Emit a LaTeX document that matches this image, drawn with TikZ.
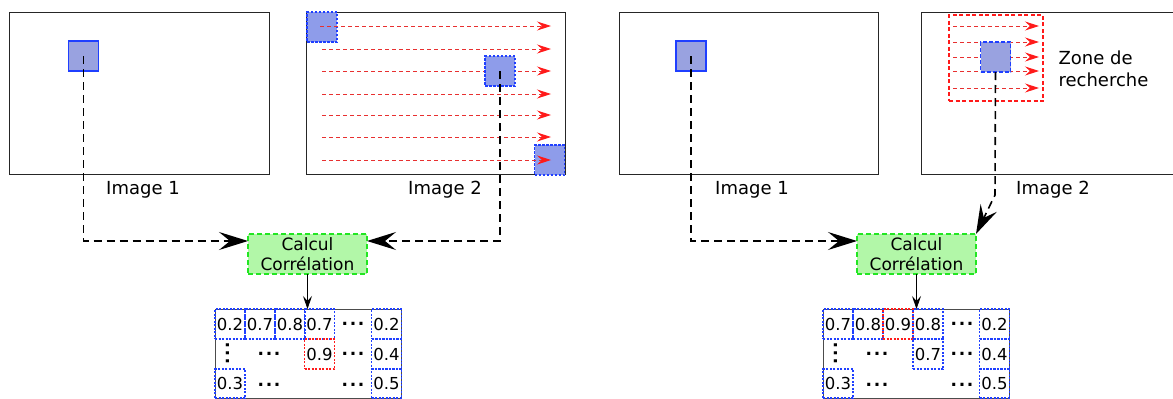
\documentclass[tikz,border=0pt]{standalone}
\usepackage{fontspec}
\setmainfont{DejaVu Sans}
\usetikzlibrary{arrows.meta}
\definecolor{sqfillA}{HTML}{99A2E0}
\definecolor{sqfillB}{HTML}{8E9CEA}
\definecolor{sqblue}{HTML}{1F3FFF}
\definecolor{gfill}{HTML}{B2F7A8}
\definecolor{gborder}{HTML}{22E622}
\definecolor{rarrow}{HTML}{FF1A1A}
\definecolor{rdash}{HTML}{E83030}
\newcommand{\hdt}{.\hspace{1.6pt}.\hspace{1.6pt}.}
\tikzset{
  imgbox/.style={draw=black!85, line width=0.9pt, inner sep=0, outer sep=0},
  sqsolid/.style={draw=sqblue, line width=1.3pt, fill=sqfillA, minimum size=30pt, inner sep=0, outer sep=0},
  sqdot/.style={draw=sqblue, line width=1.7pt, dash pattern=on 2.5pt off 1.5pt, fill=sqfillB, minimum size=30pt, inner sep=0, outer sep=0},
  sqdash/.style={draw=sqblue, line width=1.3pt, dash pattern=on 4pt off 2pt, fill=sqfillA, minimum size=30pt, inner sep=0, outer sep=0},
  lbl/.style={font=\fontsize{18}{21}\selectfont},
  calc/.style={draw=gborder, fill=gfill, line width=1.6pt, dash pattern=on 5pt off 3pt, minimum width=119pt, minimum height=40pt, inner sep=0, outer sep=0, align=center, font=\fontsize{17}{20}\selectfont},
  flow/.style={draw=black, line width=1.6pt, dash pattern=on 8pt off 5pt, -{Stealth[length=29pt,width=18pt,inset=11pt]}},
  scan/.style={draw=rdash, line width=0.9pt, dash pattern=on 4pt off 3pt, -{Stealth[length=14pt,width=9pt,inset=5pt,color=rarrow,fill=rarrow,sep=0pt]}},
  tbl/.style={draw=black!70, line width=0.9pt, inner sep=0, outer sep=0},
  cellb/.style={draw=sqblue, line width=1.3pt, dash pattern=on 2pt off 1.5pt, minimum size=30pt, inner sep=0, outer sep=0, font=\fontsize{16.5}{18}\selectfont},
  cellr/.style={cellb, draw=rarrow},
  hdots/.style={inner sep=0, font=\fontsize{17}{17}\selectfont\bfseries},
  vdots/.style={hdots, rotate=90},
  thin/.style={draw=black, line width=0.8pt, -{Stealth[length=13pt,width=9pt,inset=5pt]}},
}
\begin{document}
\begin{tikzpicture}[x=1pt,y=-1pt]
\useasboundingbox (0,0) rectangle (1173,399);
% ---------------- LEFT ----------------
\node[imgbox, minimum width=260pt, minimum height=162pt] (imA) at (139,93) {};
\node[imgbox, minimum width=259pt, minimum height=162pt] (imB) at (435.5,93) {};
\node[lbl] (lA) at (143,190) {Image 1};
\node[lbl] (lB) at (445,190) {Image 2};
\node[sqsolid] (sA) at (83.5,56) {};
\node[sqdot] (sB1) at (322,27) {};
\node[sqdot] (sB3) at (549.5,160) {};
\foreach \yy/\xs in {26/320,49/322,71/322,94/322,115/322,137/322,160/322}{
  \coordinate (rs) at (\xs,\yy);
  \coordinate (re) at (551,\yy);
  \draw[scan] (rs) -- (re);
}
\node[sqdot] (sB2) at (500,71) {};
\node[calc] (cA) at (307.5,254) {Calcul\\Corrélation};
\draw[flow] (sA.center) |- ([yshift=13pt]cA.west);
\draw[flow] (sB2.center) |- ([yshift=13pt]cA.east);
% table left
\node[tbl, minimum width=186pt, minimum height=89pt] (tA) at (308,353.5) {};
\draw[thin] (cA.south) -- (tA.north -| cA.south);
\node[cellb] (a11) at (230,324) {0.2};
\node[cellb] (a12) at (260,324) {0.7};
\node[cellb] (a13) at (290,324) {0.8};
\node[cellb] (a14) at (319.5,324) {0.7};
\node[hdots] (a15) at (353,324) {\hdt};
\node[cellb] (a16) at (386.5,324) {0.2};
\node[vdots] (a21) at (228,353.5) {\hdt};
\node[hdots] (a22) at (269,354) {\hdt};
\node[cellr] (a24) at (319.5,354) {0.9};
\node[hdots] (a25) at (353,354) {\hdt};
\node[cellb] (a26) at (386.5,354) {0.4};
\node[cellb, minimum height=29pt] (a31) at (230,383.5) {0.3};
\node[hdots] (a32) at (269,384.5) {\hdt};
\node[hdots] (a35) at (353,384.5) {\hdt};
\node[cellb, minimum height=29pt] (a36) at (386.5,383.5) {0.5};
% ---------------- RIGHT ----------------
\node[imgbox, minimum width=259pt, minimum height=162pt] (imC) at (748.5,93) {};
\draw[imgbox] (1175,12) -- (921,12) -- (921,174.5) -- (1175,174.5);
\coordinate (imD) at (921,12);
\node[lbl] (lC) at (752,190) {Image 1};
\node[lbl] (lD) at (1053,190) {Image 2};
\node[sqsolid] (sC) at (691,56) {};
\node[draw=rarrow, line width=1.3pt, dash pattern=on 4pt off 2.5pt, minimum width=94pt, minimum height=86pt, inner sep=0] (zone) at (996,58) {};
\foreach \yy in {26,42,57,71,88}{
  \coordinate (rs) at (953,\yy);
  \coordinate (re) at (1039,\yy);
  \draw[scan] (rs) -- (re);
}
\node[sqdash] (sD) at (995.5,57) {};
\node[lbl, anchor=west, align=left, font=\fontsize{18}{22}\selectfont] (zt) at (1055,69) {Zone de\\recherche};
\node[calc] (cC) at (916.5,254) {Calcul\\Corrélation};
\draw[flow] (sC.center) |- ([yshift=13pt]cC.west);
\coordinate (bend) at (995,195);
\draw[flow] (sD.south) -- (bend) -- (cC.north east);
% table right
\node[tbl, minimum width=186pt, minimum height=89pt] (tC) at (916,353.5) {};
\draw[thin] (cC.south) -- (tC.north -| cC.south);
\node[cellb] (c11) at (838,324) {0.7};
\node[cellb] (c12) at (868,324) {0.8};
\node[cellr] (c13) at (898,324) {0.9};
\node[cellb] (c14) at (928,324) {0.8};
\node[hdots] (c15) at (962,324) {\hdt};
\node[cellb] (c16) at (994.5,324) {0.2};
\node[vdots] (c21) at (836,353.5) {\hdt};
\node[hdots] (c22) at (877,354) {\hdt};
\node[cellb] (c24) at (928,354) {0.7};
\node[hdots] (c25) at (962,354) {\hdt};
\node[cellb] (c26) at (994.5,354) {0.4};
\node[cellb, minimum height=29pt] (c31) at (838,383.5) {0.3};
\node[hdots] (c32) at (877,384.5) {\hdt};
\node[hdots] (c35) at (962,384.5) {\hdt};
\node[cellb, minimum height=29pt] (c36) at (994.5,383.5) {0.5};
\end{tikzpicture}
\end{document}
